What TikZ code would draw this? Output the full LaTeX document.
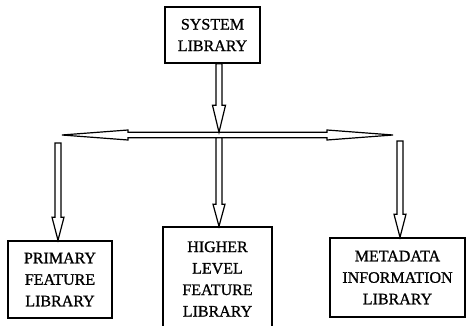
\documentclass[tikz,border=0pt]{standalone}
\usepackage{fontspec}
\setmainfont{Liberation Serif}
\newfontfamily\labelfont{Liberation Serif}[FakeBold=0.9]
\usetikzlibrary{calc}

\tikzset{
  libbox/.style={draw, line width=1.5pt, align=center, inner sep=0pt,
    font=\labelfont\fontsize{16}{21.5}\selectfont},
  fatline/.style={draw, line width=1.2pt, fill=white, line join=miter}
}

% hollow downward arrow: shaft from #1 to the tip at #2 (same x)
% #3 shaft half-width, #4 head half-width, #5 head length (all in pt)
\newcommand{\hollowdown}[5]{%
  \path[fatline] let \p1=(#1), \p2=(#2) in
    (\x1-#3pt,\y1) -- (\x1-#3pt,\y2+#5pt) -- (\x1-#4pt,\y2+#5pt) -- (\x1,\y2)
    -- (\x1+#4pt,\y2+#5pt) -- (\x1+#3pt,\y2+#5pt) -- (\x1+#3pt,\y1) -- cycle;
}

\begin{document}
\begin{tikzpicture}[x=1pt,y=-1pt]
\useasboundingbox (0,0) rectangle (468,326);
\clip (0,0) rectangle (468,326);

% library boxes
\node[libbox, minimum width=95pt, minimum height=56pt] (sys) at (212.5,35) {SYSTEM\\LIBRARY};
\node[libbox, minimum width=104pt, minimum height=77pt] (prim) at (60,279.5) {PRIMARY\\FEATURE\\LIBRARY};
\node[libbox, minimum width=109pt, minimum height=104pt] (high) at (217.5,279) {HIGHER\\LEVEL\\FEATURE\\LIBRARY};
\node[libbox, minimum width=135pt, minimum height=79pt] (meta) at (397.5,277.5) {METADATA\\INFORMATION\\LIBRARY};

% ends of the distribution bar
\coordinate (barL) at (62,135);
\coordinate (barR) at (393,135);

% horizontal two-headed distribution bar
\path[fatline] (barL) -- (128,130) -- (128,132.3) -- (327,132.3) -- (327,130)
  -- (barR) -- (327,140) -- (327,137.7) -- (128,137.7) -- (128,140) -- cycle;

% system library feeding the bar
\coordinate (s0) at ($(sys.south)+(6.5,0)$);
\coordinate (s1) at (s0 |- 0,132.3);
\hollowdown{s0}{s1}{3}{6.5}{27}

% bar to the three libraries
\coordinate (p0) at (58,143);
\coordinate (p1) at (p0 |- prim.north);
\hollowdown{p0}{p1}{3}{6}{23}

\coordinate (h0) at (219,137.7);
\coordinate (h1) at (h0 |- high.north);
\hollowdown{h0}{h1}{3}{6}{22}

\coordinate (m0) at (400,141);
\coordinate (m1) at (m0 |- meta.north);
\hollowdown{m0}{m1}{3}{6}{23}
\end{tikzpicture}
\end{document}
